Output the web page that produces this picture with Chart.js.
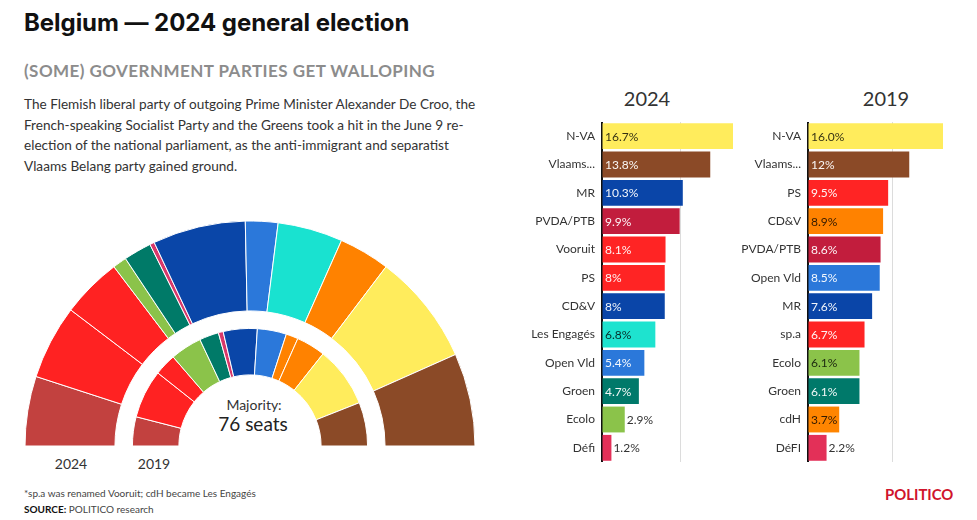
<!DOCTYPE html>
<html><head><meta charset="utf-8">
<script src="https://cdn.jsdelivr.net/npm/chart.js@4.4.1/dist/chart.umd.min.js"></script>
<style>
html,body{margin:0;padding:0}
body{width:977px;height:520px;background:#fff;position:relative;overflow:hidden;font-family:Lato,"Open Sans",sans-serif;color:#222}
.abs{position:absolute;white-space:nowrap}
.c{transform:translateX(-50%)}
canvas{position:absolute}
</style></head><body>
<div class="abs" style="left:24px;top:10.5px;font:700 24px/24px Inter;color:#111;letter-spacing:-0.05px">Belgium — 2024 general election</div>
<div class="abs" style="left:24px;top:62px;font:700 17px/17px Lato;color:#8c8c8c;letter-spacing:0.45px">(SOME) GOVERNMENT PARTIES GET WALLOPING</div>
<div class="abs" style="left:24px;top:94px;font:400 13.6px/20.5px Lato;color:#333">The Flemish liberal party of outgoing Prime Minister Alexander De Croo, the<br>French-speaking Socialist Party and the Greens took a hit in the June 9 re-<br>election of the national parliament, as the anti-immigrant and separatist<br>Vlaams Belang party gained ground.</div>

<div class="abs c" style="left:647px;top:88.3px;font:400 20px/20px Lato;color:#333">2024</div>
<div class="abs c" style="left:886px;top:88.3px;font:400 20px/20px Lato;color:#333">2019</div>

<div class="abs c" style="left:71px;top:457px;font:400 14px/14px Lato;color:#333">2024</div>
<div class="abs c" style="left:154px;top:457px;font:400 14px/14px Lato;color:#333">2019</div>
<div class="abs c" style="left:254px;top:398px;font:400 14px/14px Lato;color:#333">Majority:</div>
<div class="abs c" style="left:253px;top:414px;font:400 19px/19px Lato;color:#222">76 seats</div>

<div class="abs" style="left:24px;top:487px;font:400 10px/12px Lato;color:#444">*sp.a was renamed Vooruit; cdH became Les Engagés</div>
<div class="abs" style="left:24px;top:503px;font:400 10px/12px Lato;color:#444"><b style="color:#111">SOURCE:</b> POLITICO research</div>
<div class="abs" style="left:885px;top:486px;font:700 16px/16px Lato;color:#D0142C;transform:scaleX(0.93);transform-origin:left">POLITICO</div>

<canvas id="hemi" width="460" height="235" style="left:20px;top:216px"></canvas>
<canvas id="bars24" width="213" height="340" style="left:522px;top:122px"></canvas>
<canvas id="bars19" width="217" height="340" style="left:728px;top:122px"></canvas>

<script>
// ---- Vote share (%) bar charts ----
const parties24 = ['N-VA','Vlaams...','MR','PVDA/PTB','Vooruit','PS','CD&V','Les Engagés','Open Vld','Groen','Ecolo','Défi'];
const share24   = ['16.7','13.8','10.3','9.9','8.1','8','8','6.8','5.4','4.7','2.9','1.2'];
const colors24  = ['#FFEC5C','#8B4A27','#0A45A8','#C21D3D','#FF2424','#FF2424','#0A45A8','#1EE3CF','#2B78DA','#00796A','#8BC34A','#E33058'];

const parties19 = ['N-VA','Vlaams...','PS','CD&V','PVDA/PTB','Open Vld','MR','sp.a','Ecolo','Groen','cdH','DéFI'];
const share19   = ['16.0','12','9.5','8.9','8.6','8.5','7.6','6.7','6.1','6.1','3.7','2.2'];
const colors19  = ['#FFEC5C','#8B4A27','#FF2424','#FF8200','#C21D3D','#2B78DA','#0A45A8','#FF2424','#8BC34A','#00796A','#FF8500','#E33058'];

// ---- Seats (hemicycle), left to right ----
const seatParties24 = ['PVDA/PTB','PS','Vooruit','Ecolo','Groen','DéFI','MR','Open Vld','Les Engagés','CD&V','N-VA','Vlaams Belang'];
const seats24       = [15,16,13,3,6,1,20,7,14,11,24,20];
const seatColors24  = ['#C2413F','#FF2222','#FF2222','#8BC34A','#007A68','#D8386A','#0A46A8','#2B78DA','#19E2D0','#FF8200','#FFEC5C','#8B4A27'];

const seatParties19 = ['PVDA/PTB','PS','sp.a','Ecolo','Groen','DéFI','MR','Open Vld','cdH','CD&V','N-VA','Vlaams Belang'];
const seats19       = [12,20,9,13,8,2,14,12,5,12,25,18];
const seatColors19  = ['#C2413F','#FF2222','#FF2222','#8BC34A','#007A68','#D8386A','#0A46A8','#2B78DA','#FF8200','#FF8200','#FFEC5C','#8B4A27'];

Chart.defaults.font.family = 'Lato';

new Chart(document.getElementById('hemi'), {
  type: 'doughnut',
  data: {
    labels: seatParties24,
    datasets: [
      {label:'2024', data: seats24, backgroundColor: seatColors24, borderColor:'#fff', borderWidth:1, weight:90},
      {label:'gap', data:[1], backgroundColor:'rgba(0,0,0,0)', borderWidth:0, weight:17.5},
      {label:'2019', data: seats19, backgroundColor: seatColors19, borderColor:'#fff', borderWidth:1, weight:46.5}
    ]
  },
  options: {
    responsive:false, animation:false, events:[],
    rotation:-90, circumference:180, cutout:'31.6%', radius:225,
    layout:{padding:5},
    plugins:{legend:{display:false}, tooltip:{enabled:false}}
  }
});

function isLight(hex){
  const r=parseInt(hex.slice(1,3),16), g=parseInt(hex.slice(3,5),16), b=parseInt(hex.slice(5,7),16);
  return 0.299*r+0.587*g+0.114*b > 140;
}

const valueLabels = {
  id:'valueLabels',
  afterDatasetsDraw(chart){
    const ctx = chart.ctx, meta = chart.getDatasetMeta(0), ds = chart.data.datasets[0];
    ctx.save();
    ctx.font = '400 12px Lato';
    ctx.textBaseline = 'middle';
    ctx.textAlign = 'left';
    meta.data.forEach((bar,i)=>{
      const txt = ds.texts[i] + '%';
      const w = ctx.measureText(txt).width;
      const bw = bar.x - bar.base;
      let x, col;
      if (w + 3 > bw){ x = bar.x + 2; col = '#333'; }
      else { x = bar.base + 2.5; col = isLight(ds.backgroundColor[i]) ? 'rgba(0,0,0,0.8)' : 'rgba(255,255,255,0.95)'; }
      ctx.fillStyle = col;
      ctx.fillText(txt, x, bar.y + 0.5);
    });
    ctx.restore();
  }
};

function barChart(id, labels, texts, colors){
  const values = texts.map(Number);
  return new Chart(document.getElementById(id), {
    type:'bar',
    data:{labels, datasets:[{data:values, texts, backgroundColor:colors, barPercentage:0.913, categoryPercentage:1}]},
    options:{
      indexAxis:'y', responsive:false, animation:false, events:[],
      layout:{padding:{top:0,right:2,bottom:0,left:0}},
      scales:{
        x:{min:0, max:Math.max(...values), ticks:{display:false, stepSize:10},
           grid:{color:c=>(c.tick && c.tick.value===10)?'#dcdcdc':'rgba(0,0,0,0)', drawTicks:false, lineWidth:1},
           border:{display:false},
           afterFit(s){s.height=0; s.paddingLeft=0; s.paddingRight=0;}},
        y:{ticks:{color:'#333', font:{family:'Lato', size:12}, padding:7},
           grid:{display:false, drawTicks:false},
           border:{color:'#111', width:2},
           afterFit(s){s.width=80; s.paddingTop=0; s.paddingBottom=0;}}
      },
      plugins:{legend:{display:false}, tooltip:{enabled:false}}
    },
    plugins:[valueLabels]
  });
}

barChart('bars24', parties24, share24, colors24);
barChart('bars19', parties19, share19, colors19);
</script>
</body></html>
